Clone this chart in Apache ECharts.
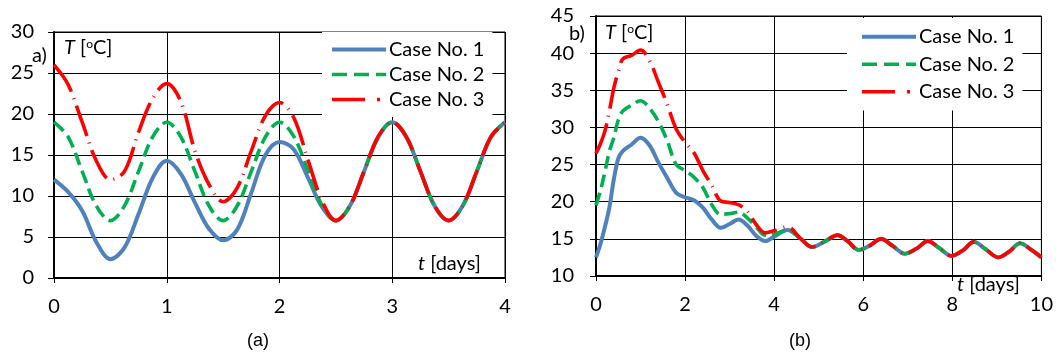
<!DOCTYPE html>
<html>
<head>
<meta charset="utf-8">
<script src="https://cdn.jsdelivr.net/npm/echarts@6/dist/echarts.min.js"></script>
<style>
html,body{margin:0;padding:0;background:#fff;}
#chart{width:1056px;height:358px;}
</style>
</head>
<body>
<div id="chart"></div>
<script>
// ---------- Panel (a) data ----------
const tA = [0,0.125,0.25,0.375,0.5,0.625,0.75,0.875,1,1.125,1.25,1.375,1.5,1.625,1.75,1.875,2,2.125,2.25,2.375,2.5,2.625,2.75,2.875,3,3.125,3.25,3.375,3.5,3.625,3.75,3.875,4];
const case1A = [12.0,10.5,8.2,4.4,2.3,3.7,7.8,12.2,14.3,12.7,9.2,6.0,4.6,5.9,10.4,15.0,16.6,15.7,12.3,8.7,7.0,8.8,13.0,17.2,19.0,17.2,13.0,8.8,7.0,8.8,13.0,17.2,19.0];
const case2A = [19.0,17.2,13.0,8.8,7.0,8.8,13.0,17.2,19.0,17.2,13.0,8.8,7.0,8.8,13.0,17.2,19.0,17.3,13.2,8.9,7.0,8.8,13.0,17.2,19.0,17.2,13.0,8.8,7.0,8.8,13.0,17.2,19.0];
const case3A = [26.0,23.6,19.0,14.3,12.0,13.0,17.8,21.9,23.7,21.5,15.5,11.4,9.3,11.0,15.5,19.8,21.4,19.6,14.5,9.5,7.0,8.8,13.0,17.2,19.0,17.2,13.0,8.8,7.0,8.8,13.0,17.2,19.0];

// ---------- Panel (b) data ----------
const tB = [0,0.1,0.2,0.3,0.4,0.5,0.6,0.8,1.0,1.2,1.4,1.6,1.8,2.0,2.2,2.4,2.6,2.8,3.0,3.2,3.4,3.6,3.8,4.0,4.3,4.6,4.85,5.15,5.42,5.65,5.9,6.15,6.4,6.65,6.93,7.2,7.45,7.7,7.98,8.25,8.48,8.75,9.03,9.28,9.52,9.78,10];
const case1B = [12.5,14.3,16.6,19.2,23.0,25.8,26.8,27.7,28.6,27.6,25.3,23.2,21.2,20.6,20.2,19.2,17.6,16.5,17.0,17.6,16.8,15.4,14.7,15.3,16.2,15.0,13.9,14.7,15.5,14.7,13.5,14.1,15.0,14.1,13.0,13.7,14.7,13.8,12.7,13.5,14.6,13.6,12.5,13.3,14.4,13.5,12.5];
const case2B = [19.5,21.5,24.0,26.8,28.6,31.0,32.2,33.0,33.6,32.6,30.8,28.2,25.0,24.2,23.3,21.9,19.6,18.3,18.4,18.6,17.8,16.6,15.5,15.6,16.2,15.0,13.9,14.7,15.5,14.7,13.5,14.1,15.0,14.1,13.0,13.7,14.7,13.8,12.7,13.5,14.6,13.6,12.5,13.3,14.4,13.5,12.5];
const case3B = [26.5,27.8,29.5,32.2,35.3,37.5,39.2,39.7,40.4,39.0,36.1,33.1,29.8,28.0,26.6,24.2,22.2,20.1,19.9,19.6,18.7,16.9,15.8,16.1,16.6,15.0,13.9,14.7,15.5,14.7,13.5,14.1,15.0,14.1,13.0,13.7,14.7,13.8,12.7,13.5,14.6,13.6,12.5,13.3,14.4,13.5,12.5];

// ---------- Axis ticks ----------
const xTicksA = {min:0, max:4, interval:1};
const yTicksA = {min:0, max:30, interval:5};
const xTicksB = {min:0, max:10, interval:2};
const yTicksB = {min:10, max:45, interval:5};

const names = ['Case No. 1','Case No. 2','Case No. 3'];
const colors = ['#4F81BD','#00B050','#FF0000'];
const dashes = ['solid',[13,6],[32,7,1,7]];
const legendDashes = ['solid',[15,7],[33,12,3,12]];
const widths = [4,3.6,3.6];

const FONT = 'Lato';
const pair = (t, v) => t.map((x,i)=>[x, v[i]]);

function xAxis(idx, ticks, margin){
  return Object.assign({
    type:'value', gridIndex: idx,
    axisLine:{show:true, onZero:false, lineStyle:{color:'#000', width:2}},
    axisTick:{show:true, length:5, lineStyle:{color:'#000', width:1}},
    splitLine:{show:true, lineStyle:{color:'#000', width:1}},
    axisLabel:{color:'#000', fontFamily:FONT, fontSize:20, margin:margin}
  }, ticks);
}
function yAxis(idx, ticks, margin){
  return Object.assign({
    type:'value', gridIndex: idx,
    axisLine:{show:true, onZero:false, lineStyle:{color:'#000', width:2}},
    axisTick:{show:true, length:6, lineStyle:{color:'#000', width:1}},
    splitLine:{show:true, lineStyle:{color:'#000', width:1}},
    axisLabel:{color:'#000', fontFamily:FONT, fontSize:20, margin:margin}
  }, ticks);
}

const seriesDefs = [];
[[tA,[case1A,case2A,case3A],0],[tB,[case1B,case2B,case3B],1]].forEach(([t, vals, g])=>{
  vals.forEach((v,k)=>{
    seriesDefs.push({
      name: names[k], type:'line', xAxisIndex:g, yAxisIndex:g,
      data: pair(t, v), smooth:0.35, showSymbol:false, symbol:'none',
      lineStyle:{color:colors[k], width:widths[k], type:dashes[k], cap:'butt'},
      itemStyle:{color:colors[k]}, z: 2+k, animation:false
    });
  });
});

function legend(left, top, lineH, pad){
  return {
    orient:'vertical', left:left, top:top, itemGap:0, itemWidth:54, itemHeight:12,
    backgroundColor:'#fff', padding:pad, selectedMode:false,
    itemStyle:{opacity:0},
    data: names.map((n,k)=>({name:n, lineStyle:{color:colors[k], width:widths[k], type:legendDashes[k], cap:'butt'}})),
    textStyle:{color:'#000', fontFamily:FONT, fontSize:20, lineHeight:lineH, padding:[0,0,0,-2]}
  };
}

function tLabel(x, y){
  return {
    type:'text', left:x, top:y,
    style:{
      text:'{i|T} [{s|o}C]',
      rich:{
        i:{fontStyle:'italic', fontFamily:FONT, fontSize:20, fill:'#000'},
        s:{fontFamily:FONT, fontSize:12, fill:'#000', verticalAlign:'top', padding:[0,0,6,0]}
      },
      font:'20px '+FONT, fill:'#000'
    }
  };
}
function txt(x, y, s, size, fam){
  return {type:'text', left:x, top:y, style:{text:s, font: size+'px '+fam, fill:'#000'}};
}
function tDays(x, y){
  return {type:'text', left:x, top:y, style:{text:'{i|t} [days]', font:'20px '+FONT, fill:'#000',
    rich:{i:{fontStyle:'italic', fontFamily:FONT, fontSize:20, fill:'#000'}}}};
}

const option = {
  backgroundColor:'#fff',
  animation:false,
  grid:[
    {left:54, top:32, width:451, height:246, show:true, borderColor:'#000', borderWidth:1, backgroundColor:'transparent'},
    {left:596, top:16, width:446, height:260, show:true, borderColor:'#000', borderWidth:1, backgroundColor:'transparent'}
  ],
  xAxis:[xAxis(0, xTicksA, 19), xAxis(1, xTicksB, 19)],
  yAxis:[yAxis(0, yTicksA, 20), yAxis(1, yTicksB, 22)],
  legend:[legend(322, 32, 25, [5,8,5,8]), legend(847, 18, 27.5, [5,8,5,13])],
  series: seriesDefs,
  graphic:[
    txt(32, 46, 'a)', 20, FONT),
    tLabel(64, 38),
    tDays(418, 254),
    txt(569, 24, 'b)', 20, FONT),
    tLabel(605, 23),
    tDays(957, 275),
    txt(247, 332, '(a)', 18, 'Liberation Sans'),
    txt(789, 332, '(b)', 18, 'Liberation Sans')
  ]
};
const chart = echarts.init(document.getElementById('chart'), null, {renderer:'canvas'});
chart.setOption(option);
</script>
</body>
</html>
